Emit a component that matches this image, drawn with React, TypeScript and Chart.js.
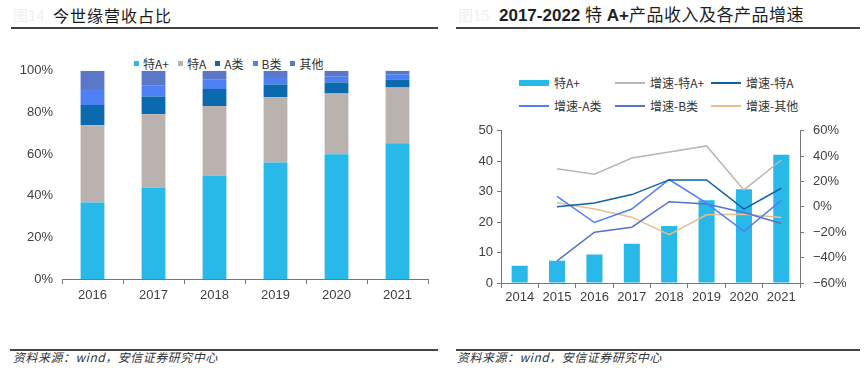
import React, { useEffect, useRef } from 'react';
import { Chart, registerables } from 'chart.js';

Chart.register(...registerables);

// ---------- Left chart: revenue share (%) ----------
const shareYears = ['2016', '2017', '2018', '2019', '2020', '2021'];
const shareTeAPlus = [36.8, 43.8, 49.6, 55.9, 59.9, 65.2];
const shareTeA = [37.0, 35.3, 33.5, 31.4, 29.2, 26.8];
const shareAClass = [9.8, 8.5, 8.1, 6.1, 5.3, 3.8];
const shareBClass = [7.6, 5.5, 4.8, 3.6, 2.7, 2.6];
const shareOther = [8.8, 6.9, 4.0, 3.0, 2.9, 1.6];
const shareTicks = [0, 20, 40, 60, 80, 100];

// ---------- Right chart: 特A+ revenue (bars) and growth rates (%) ----------
const growthYears = ['2014', '2015', '2016', '2017', '2018', '2019', '2020', '2021'];
const revenueTeAPlus = [5.7, 7.3, 9.4, 12.9, 18.7, 27.2, 30.8, 42.1];
const growthTeAPlus = [null, 30.1, 25.8, 38.5, 43.3, 48.1, 13.4, 37.0];
const growthTeA = [null, 0.1, 3.0, 9.7, 21.3, 21.3, -1.7, 14.7];
const growthAClass = [null, 8.3, -12.3, -1.7, 21.6, 3.0, -19.2, 5.2];
const growthBClass = [null, -42.5, -20.0, -16.0, 4.1, 2.3, -4.4, -13.1];
const growthOther = [null, 3.3, -1.7, -8.1, -21.9, -6.2, -5.7, -8.3];

const COLORS = {
  teAPlus: '#29B9E8',
  teA: '#BAB2AF',
  aClass: '#0B69AE',
  bClass: '#4D80F5',
  other: '#5B78C8',
  gTeAPlus: '#BDB5B2',
  gTeA: '#0B62A8',
  gAClass: '#4E7FF6',
  gBClass: '#5672CC',
  gOther: '#E9BD8F',
};

const TICK_FONT = { family: '"Liberation Sans", Arial, sans-serif', size: 13 };
const TICK_COLOR = '#404040';
const AXIS_COLOR = '#777777';
const CJK = '"Noto Sans CJK SC", "Liberation Sans", sans-serif';

const leftLegend = [
  { label: '特A+', color: COLORS.teAPlus },
  { label: '特A', color: COLORS.teA },
  { label: 'A类', color: COLORS.aClass },
  { label: 'B类', color: COLORS.bClass },
  { label: '其他', color: COLORS.other },
];

const rightLegend = [
  { label: '特A+', color: COLORS.teAPlus, bar: true },
  { label: '增速-特A+', color: COLORS.gTeAPlus },
  { label: '增速-特A', color: COLORS.gTeA },
  { label: '增速-A类', color: COLORS.gAClass },
  { label: '增速-B类', color: COLORS.gBClass },
  { label: '增速-其他', color: COLORS.gOther },
];

const pct = (v: number) => (v < 0 ? '\u2212' + Math.abs(v) : String(v)) + '%';

export default function App() {
  const leftRef = useRef<HTMLCanvasElement>(null);
  const rightRef = useRef<HTMLCanvasElement>(null);

  useEffect(() => {
    const barCommon = { barPercentage: 0.39, categoryPercentage: 1, borderWidth: 0 };
    const left = new Chart(leftRef.current!, {
      type: 'bar',
      data: {
        labels: shareYears,
        datasets: [
          { label: '特A+', data: shareTeAPlus, backgroundColor: COLORS.teAPlus, ...barCommon },
          { label: '特A', data: shareTeA, backgroundColor: COLORS.teA, ...barCommon },
          { label: 'A类', data: shareAClass, backgroundColor: COLORS.aClass, ...barCommon },
          { label: 'B类', data: shareBClass, backgroundColor: COLORS.bClass, ...barCommon },
          { label: '其他', data: shareOther, backgroundColor: COLORS.other, ...barCommon },
        ],
      },
      options: {
        animation: false,
        responsive: false,
        layout: { padding: { left: 8, right: 12, top: 4, bottom: 0 } },
        plugins: { legend: { display: false }, tooltip: { enabled: false } },
        scales: {
          x: {
            stacked: true,
            grid: { display: true, drawOnChartArea: false, drawTicks: true, tickLength: 5, color: AXIS_COLOR, offset: true },
            border: { display: true, color: AXIS_COLOR, width: 1 },
            ticks: { font: TICK_FONT, color: TICK_COLOR, padding: 4 },
            afterFit: (s: any) => { s.height = 31; },
          },
          y: {
            stacked: true,
            min: 0,
            max: 100,
            afterBuildTicks: (s: any) => { s.ticks = shareTicks.map((v) => ({ value: v })); },
            grid: { display: false, drawTicks: false },
            border: { display: false },
            ticks: { font: TICK_FONT, color: TICK_COLOR, padding: 9, callback: (v: any) => v + '%' },
            afterFit: (s: any) => { s.width = 54; },
          },
        },
      },
    });

    const lineCommon = {
      type: 'line' as const,
      yAxisID: 'y1',
      borderWidth: 1.5,
      pointRadius: 0,
      tension: 0,
      fill: false,
      spanGaps: false,
      order: 0,
    };
    const right = new Chart(rightRef.current!, {
      type: 'bar',
      data: {
        labels: growthYears,
        datasets: [
          {
            type: 'bar',
            label: '特A+',
            data: revenueTeAPlus,
            backgroundColor: COLORS.teAPlus,
            yAxisID: 'y',
            barPercentage: 0.43,
            categoryPercentage: 1,
            borderWidth: 0,
            order: 10,
          } as any,
          { ...lineCommon, label: '增速-特A+', data: growthTeAPlus, borderColor: COLORS.gTeAPlus },
          { ...lineCommon, label: '增速-特A', data: growthTeA, borderColor: COLORS.gTeA },
          { ...lineCommon, label: '增速-A类', data: growthAClass, borderColor: COLORS.gAClass },
          { ...lineCommon, label: '增速-B类', data: growthBClass, borderColor: COLORS.gBClass },
          { ...lineCommon, label: '增速-其他', data: growthOther, borderColor: COLORS.gOther },
        ],
      },
      options: {
        animation: false,
        responsive: false,
        layout: { padding: { left: 0, right: 0, top: 10, bottom: 2 } },
        plugins: { legend: { display: false }, tooltip: { enabled: false } },
        scales: {
          x: {
            grid: { display: true, drawOnChartArea: false, drawTicks: true, tickLength: 5, color: AXIS_COLOR, offset: true },
            border: { display: true, color: AXIS_COLOR },
            ticks: { font: TICK_FONT, color: TICK_COLOR, padding: 2 },
            afterFit: (s: any) => { s.height = 30; },
          },
          y: {
            position: 'left',
            min: 0,
            max: 50,
            ticks: { stepSize: 10, font: TICK_FONT, color: TICK_COLOR, padding: 4 },
            grid: { display: true, drawOnChartArea: false, drawTicks: true, tickLength: 4, color: AXIS_COLOR },
            border: { display: true, color: AXIS_COLOR },
            afterFit: (s: any) => { s.width = 61; },
          },
          y1: {
            position: 'right',
            min: -60,
            max: 60,
            ticks: { stepSize: 20, font: TICK_FONT, color: TICK_COLOR, padding: 9, callback: (v: any) => pct(Number(v)) },
            grid: { display: true, drawOnChartArea: false, drawTicks: true, tickLength: 4, color: AXIS_COLOR },
            border: { display: true, color: AXIS_COLOR },
            afterFit: (s: any) => { s.width = 66; },
          },
        },
      },
    });

    return () => {
      left.destroy();
      right.destroy();
    };
  }, []);

  const abs = (style: React.CSSProperties): React.CSSProperties => ({ position: 'absolute', ...style });

  return (
    <div style={{ position: 'fixed', left: 0, top: 0, width: 866, height: 375, background: '#fff', overflow: 'hidden' }}>
      {/* Titles */}
      <div style={abs({ left: 13, top: 5, fontFamily: CJK, fontSize: 15, lineHeight: '20px', color: '#f0f0f0' })}>图14</div>
      <div style={abs({ left: 53, top: 5, fontFamily: CJK, fontSize: 16, lineHeight: '20px', color: '#1a1a1a', letterSpacing: 1 })}>
        今世缘营收占比
      </div>
      <div style={abs({ left: 458, top: 5, fontFamily: CJK, fontSize: 15, lineHeight: '20px', color: '#f0f0f0' })}>图15</div>
      <div style={abs({ left: 499, top: 4, fontSize: 17, lineHeight: '20px', color: '#1f1f1f', whiteSpace: 'nowrap' })}>
        <span style={{ fontFamily: '"Liberation Sans", Arial, sans-serif', fontWeight: 700 }}>2017-2022 </span>
        <span style={{ fontFamily: CJK }}>特</span>
        <span style={{ fontFamily: '"Liberation Sans", Arial, sans-serif', fontWeight: 700 }}> A+</span>
        <span style={{ fontFamily: CJK, letterSpacing: 0.5 }}>产品收入及各产品增速</span>
      </div>
      <div style={abs({ left: 11, top: 27, width: 427, height: 2, background: '#444' })} />
      <div style={abs({ left: 456, top: 27, width: 404, height: 2, background: '#444' })} />

      {/* Left legend */}
      <div style={abs({ left: 134, top: 56, height: 14, display: 'flex', alignItems: 'center', fontFamily: CJK, fontSize: 12, color: '#333' })}>
        {leftLegend.map((it) => (
          <div key={it.label} style={{ display: 'flex', alignItems: 'center', marginRight: 9 }}>
            <span style={{ display: 'inline-block', width: 5, height: 5, background: it.color, marginRight: 4 }} />
            <span>{it.label}</span>
          </div>
        ))}
      </div>

      {/* Right legend */}
      <div
        style={abs({
          left: 519,
          top: 71,
          display: 'grid',
          gridTemplateColumns: '96px 96px 96px',
          gridAutoRows: '23px',
          fontFamily: CJK,
          fontSize: 12,
          color: '#333',
        })}
      >
        {rightLegend.map((it) => (
          <div key={it.label} style={{ display: 'flex', alignItems: 'center', whiteSpace: 'nowrap' }}>
            <span
              style={{
                display: 'inline-block',
                width: 30,
                height: it.bar ? 6 : 2,
                background: it.color,
                marginRight: 5,
              }}
            />
            <span>{it.label}</span>
          </div>
        ))}
      </div>

      {/* Canvases */}
      <canvas ref={leftRef} width={440} height={256} style={abs({ left: 0, top: 54, width: 440, height: 256 })} />
      <canvas ref={rightRef} width={426} height={201} style={abs({ left: 440, top: 114, width: 426, height: 201 })} />

      {/* Footers */}
      <div style={abs({ left: 10, top: 349, width: 428, height: 2, background: '#444' })} />
      <div style={abs({ left: 456, top: 349, width: 404, height: 2, background: '#444' })} />
      <div style={abs({ left: 13, top: 350, fontFamily: CJK, fontSize: 12, lineHeight: '14px', fontStyle: 'italic', color: '#333', letterSpacing: 0.5 })}>
        资料来源：wind，安信证券研究中心
      </div>
      <div style={abs({ left: 457, top: 350, fontFamily: CJK, fontSize: 12, lineHeight: '14px', fontStyle: 'italic', color: '#333', letterSpacing: 0.5 })}>
        资料来源：wind，安信证券研究中心
      </div>
    </div>
  );
}
